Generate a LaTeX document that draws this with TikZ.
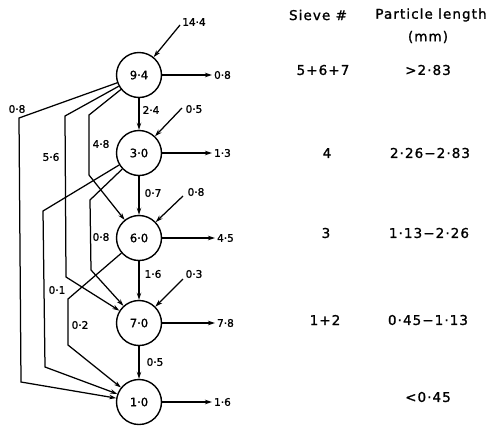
\documentclass[tikz,border=0pt]{standalone}
\usepackage{fontspec}
\setmainfont{DejaVu Sans}
\newfontfamily\lblfont[FakeBold=1.2]{DejaVu Sans}
\newfontfamily\tabfont[LetterSpace=8,FakeBold=1.2]{DejaVu Sans}
\usetikzlibrary{arrows.meta}
\begin{document}
\begin{tikzpicture}[x=1pt,y=-1pt,line width=1.25pt,
  stage/.style={circle,draw,line width=1.4pt,minimum size=45pt,inner sep=0pt,font=\lblfont\fontsize{11.5}{13}\selectfont},
  lbl/.style={font=\lblfont\fontsize{10.5}{12}\selectfont,inner sep=1.5pt},
  tab/.style={font=\tabfont\fontsize{13.5}{15}\selectfont,inner sep=0pt},
  flow/.style={-{Stealth[length=7pt,width=4.5pt]},line width=1.25pt}]
\useasboundingbox (0,0) rectangle (494,426);

% stages
\node[stage] (n1) at (139,75)  {9·4};
\node[stage] (n2) at (139,153) {3·0};
\node[stage] (n3) at (139,238) {6·0};
\node[stage] (n4) at (139,323) {7·0};
\node[stage] (n5) at (139,402) {1·0};

% inputs
\coordinate (i1) at (180,25);
\coordinate (i2) at (182,108);
\coordinate (i3) at (183,196);
\coordinate (i4) at (183,279);
\node[lbl] (ti1) at (194,22)  {14·4};
\node[lbl] (ti2) at (194,109) {0·5};
\node[lbl] (ti3) at (196,192) {0·8};
\node[lbl] (ti4) at (194,274) {0·3};
\draw[flow] (i1) -- (n1);
\draw[flow] (i2) -- (n2);
\draw[flow] (i3) -- (n3);
\draw[flow] (i4) -- (n4);

% outputs
\node[lbl,anchor=west] (o1) at (212,75)  {0·8};
\node[lbl,anchor=west] (o2) at (212,153) {1·3};
\node[lbl,anchor=west] (o3) at (215,238) {4·5};
\node[lbl,anchor=west] (o4) at (215,323) {7·8};
\node[lbl,anchor=west] (o5) at (212,402) {1·6};
\draw[flow] (n1) -- (o1);
\draw[flow] (n2) -- (o2);
\draw[flow] (n3) -- (o3);
\draw[flow] (n4) -- (o4);
\draw[flow] (n5) -- (o5);

% downward cascade
\draw[flow] (n1) -- (n2);
\draw[flow] (n2) -- (n3);
\draw[flow] (n3) -- (n4);
\draw[flow] (n4) -- (n5);
\node[lbl] (v1) at (151,110) {2·4};
\node[lbl] (v2) at (153,193) {0·7};
\node[lbl] (v3) at (153,274) {1·6};
\node[lbl] (v4) at (155,362) {0·5};

% bypass routes
\coordinate (a1) at (19,118);  \coordinate (b1) at (21,382);
\coordinate (a2) at (65,116);  \coordinate (b2) at (66,277);
\coordinate (a3) at (89,115);  \coordinate (b3) at (89,175);
\coordinate (a4) at (43,211);  \coordinate (b4) at (45,367);
\coordinate (a5) at (90,200);  \coordinate (b5) at (91,270);
\coordinate (a6) at (68,299);  \coordinate (b6) at (68,345);
\draw[flow] (n1) -- (a1) -- (b1) -- (n5);
\draw[flow] (n1) -- (a2) -- (b2) -- (n4);
\draw[flow] (n1) -- (a3) -- (b3) -- (n3);
\draw[flow] (n2) -- (a4) -- (b4) -- (n5);
\draw[flow] (n2) -- (a5) -- (b5) -- (n4);
\draw[flow] (n3) -- (a6) -- (b6) -- (n5);
\node[lbl] (l1) at (17,109)  {0·8};
\node[lbl] (l2) at (51,157)  {5·6};
\node[lbl] (l3) at (101,144) {4·8};
\node[lbl] (l4) at (57,290)  {0·1};
\node[lbl] (l5) at (101,237) {0·8};
\node[lbl] (l6) at (80,325)  {0·2};

% table
\node[tab] (h1) at (318,15) {Sieve \#};
\node[tab] (h2) at (431,15) {Particle length};
\node[tab] (h3) at (428,37) {(mm)};
\node[tab] (s1) at (323,70)  {5+6+7};
\node[tab] (s2) at (327,153) {4};
\node[tab] (s3) at (326,233) {3};
\node[tab] (s4) at (325,320) {1+2};
\node[tab] (p1) at (428,70)  {>2·83};
\node[tab] (p2) at (430,153) {2·26−2·83};
\node[tab] (p3) at (429,233) {1·13−2·26};
\node[tab] (p4) at (428,320) {0·45−1·13};
\node[tab] (p5) at (428,397) {<0·45};
\end{tikzpicture}
\end{document}
